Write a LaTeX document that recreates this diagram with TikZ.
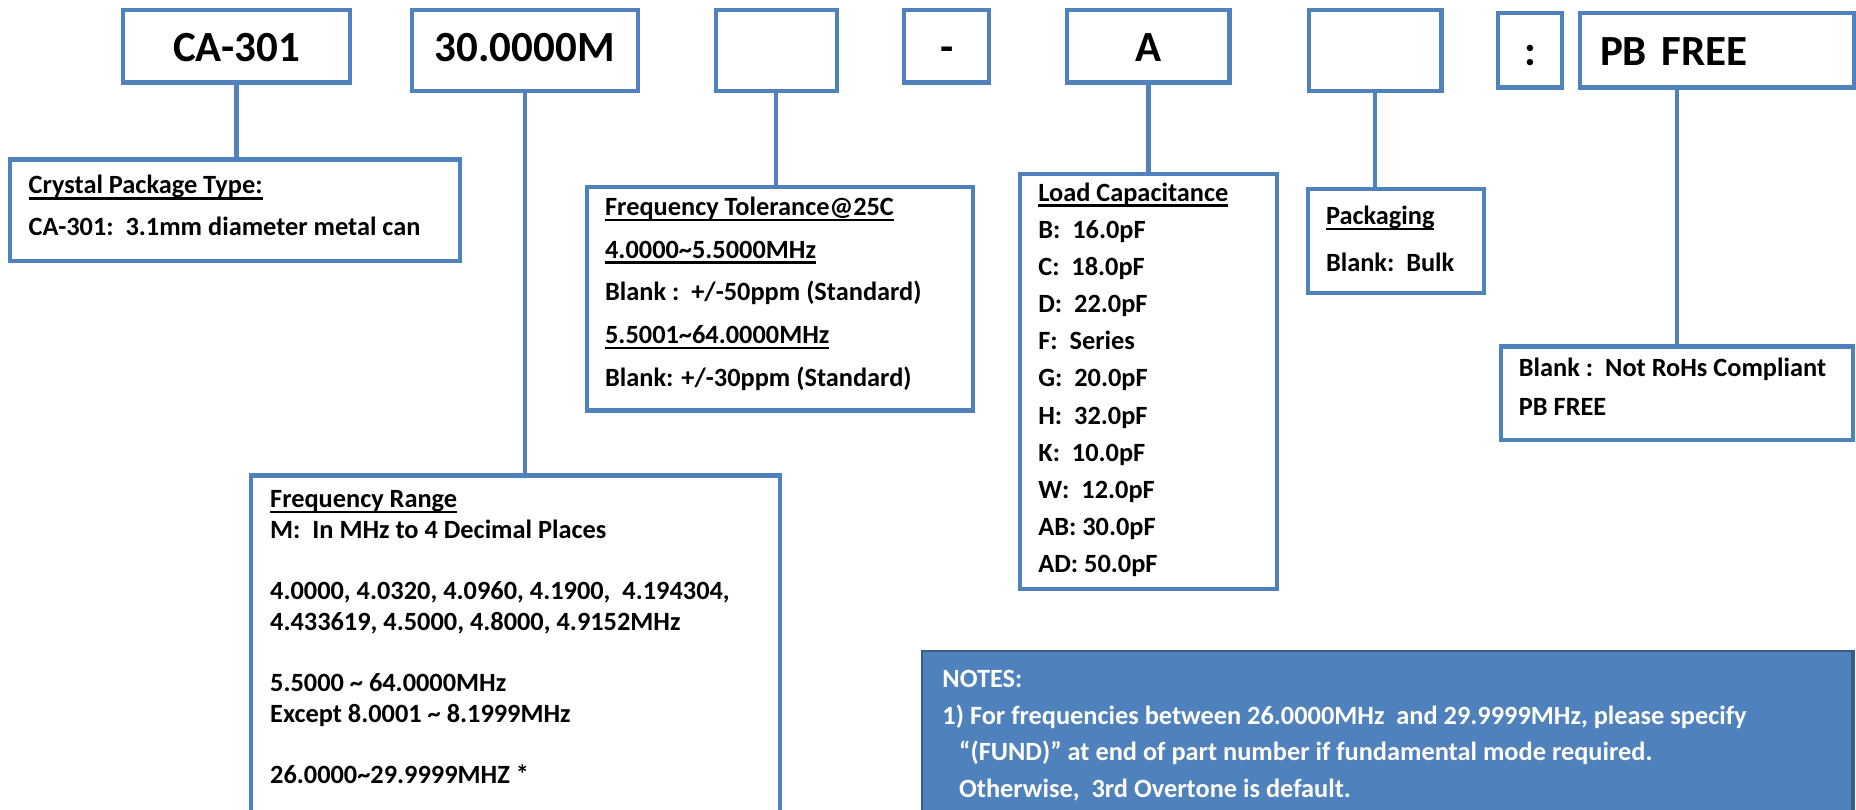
\documentclass[tikz,border=0pt]{standalone}
\usepackage{fontspec}
\setmainfont{Carlito}
\definecolor{xanh}{HTML}{4F81BD}
\definecolor{xanhdam}{HTML}{385D8A}
\newcommand{\gachchan}[1]{\setbox0\hbox{#1}\rlap{\rule[-4pt]{\wd0}{1.6pt}}\box0}

\begin{document}
\begin{tikzpicture}[x=0.3mm,y=-0.3mm,
	khung/.style={draw=xanh, line width=3pt, anchor=north west, inner sep=0pt},
	maso/.style={khung, font=\fontsize{31}{31}\selectfont\bfseries, text height=22pt, text depth=0pt},
	chu/.style={anchor=north west, inner sep=0pt, align=left, font=\fontsize{19}{#1}\selectfont\bfseries},
	noi/.style={draw=xanh, line width=3pt}]
				% Khung hình
				\path[use as bounding box, clip] (0,0) rectangle (1568,684);
				
				% Các ô mã sản phẩm
				\node[maso, minimum width=57.6mm, minimum height=18.3mm] (ca) at (102,7) {CA-301};
				\node[maso, minimum width=57.3mm, minimum height=20.4mm, text depth=6pt] (tanso) at (346,7) {30.0000M};
				\node[khung, minimum width=30.6mm, minimum height=20.4mm] (trong1) at (603,7) {};
				\node[maso, minimum width=21.6mm, minimum height=18.3mm] (gach) at (762,7) {-};
				\node[maso, minimum width=41.1mm, minimum height=18.3mm] (tai) at (900,7) {A};
				\node[khung, minimum width=33.6mm, minimum height=20.4mm] (trong2) at (1104,7) {};
				\node[maso, minimum width=16.2mm, minimum height=18.8mm] (cham) at (1264,9.5) {:};
				\node[maso, minimum width=69.6mm, minimum height=18.8mm, text width=59.4mm, align=left, inner xsep=5.1mm] (pb) at (1333,9.5) {PB FREE};
				
				% Các ô giải thích
				\node[khung, minimum width=114mm, minimum height=25.8mm] (loai) at (7,133) {};
				\node[khung, minimum width=134.1mm, minimum height=96mm] (dai) at (210,400) {};
				\node[khung, minimum width=97.8mm, minimum height=56.7mm] (saiso) at (494,156) {};
				\node[khung, minimum width=65.1mm, minimum height=105.3mm] (tutai) at (860,145) {};
				\node[khung, minimum width=44.7mm, minimum height=26.4mm] (donggoi) at (1103,158) {};
				\node[khung, minimum width=89.4mm, minimum height=23.7mm] (rohs) at (1266,291) {};
				\node[anchor=north west, fill=xanh, draw=xanhdam, line width=1.5pt, minimum width=235.8mm, minimum height=48mm] (ghichu) at (778,549) {};
				\draw[xanhdam, line width=3pt] (ghichu.north east) -- (ghichu.south east);
				
				% Đường nối
				\foreach \a/\b in {ca/loai, tanso/dai, trong1/saiso, tai/tutai, trong2/donggoi}
					{\draw[noi] (\a.south) -- (\a.south |- \b.north);}
				\draw[noi] (rohs.north |- pb.south) -- (rohs.north);
				
				% Nội dung
				\node[chu=29.9pt] (tloai) at (24,148) {\gachchan{Crystal Package Type:}\\
					CA-301:\ \ 3.1mm diameter metal can};
				\node[chu=30.9pt] (tsaiso) at (511,166) {\gachchan{Frequency Tolerance@25C}\\
					\gachchan{4.0000\textasciitilde5.5000MHz}\\
					Blank :\ \ +/-50ppm (Standard)\\
					\gachchan{5.5001\textasciitilde64.0000MHz}\\
					Blank: +/-30ppm (Standard)};
				\node[chu=26.8pt] (ttutai) at (877,154) {\gachchan{Load Capacitance}\\
					B:\ \ 16.0pF\\ C:\ \ 18.0pF\\ D:\ \ 22.0pF\\ F:\ \ Series\\ G:\ \ 20.0pF\\
					H:\ \ 32.0pF\\ K:\ \ 10.0pF\\ W:\ \ 12.0pF\\ AB: 30.0pF\\ AD: 50.0pF};
				\node[chu=34pt] (tdonggoi) at (1120,174) {\gachchan{Packaging}\\ Blank:\ \ Bulk};
				\node[chu=28.2pt] (trohs) at (1283,302) {Blank :\ \ Not RoHs Compliant\\ PB FREE};
				\node[chu=22.2pt] (tdai) at (228,414) {\gachchan{Frequency Range}\\
					M:\ \ In MHz to 4 Decimal Places\\[22pt]
					4.0000, 4.0320, 4.0960, 4.1900,\ \ 4.194304,\\
					4.433619, 4.5000, 4.8000, 4.9152MHz\\[22pt]
					5.5000 \textasciitilde{} 64.0000MHz\\
					Except 8.0001 \textasciitilde{} 8.1999MHz\\[22pt]
					26.0000\textasciitilde29.9999MHZ *};
				\node[chu=26.4pt, text=white] (tghichu) at (796,566) {NOTES:\\
					1) For frequencies between 26.0000MHz\ \ and 29.9999MHz, please specify\\
					\hspace*{12pt}“(FUND)” at end of part number if fundamental mode required.\\
					\hspace*{12pt}Otherwise,\ \ 3rd Overtone is default.};
\end{tikzpicture}
\end{document}
